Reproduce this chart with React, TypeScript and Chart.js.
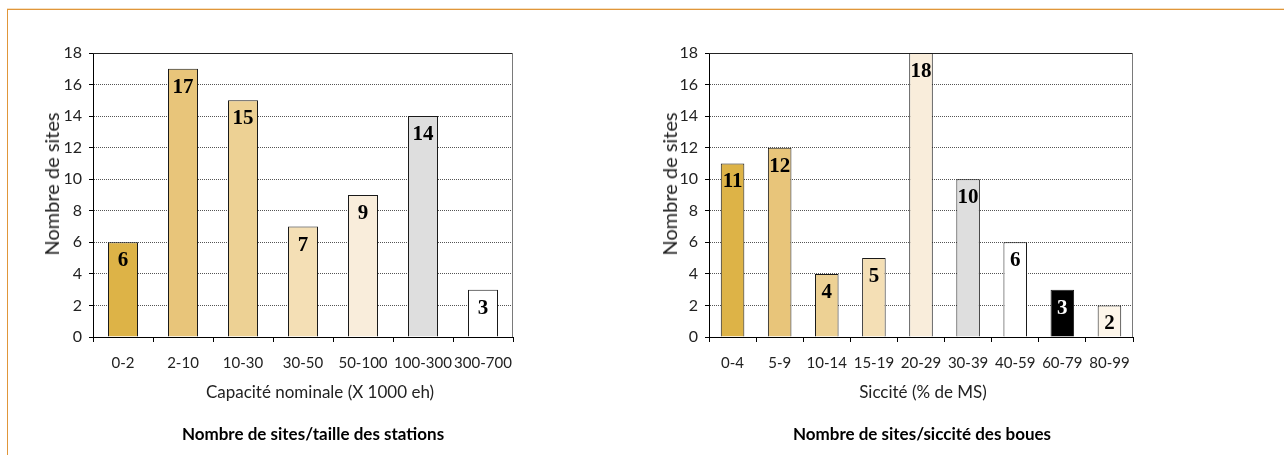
import React, { useEffect, useRef } from "react";
import { Chart, registerables } from "chart.js";

Chart.register(...registerables);

// ---------- data ----------
const sizeCategories = ["0-2", "2-10", "10-30", "30-50", "50-100", "100-300", "300-700"];
const sizeCounts = [6, 17, 15, 7, 9, 14, 3];

const drynessCategories = ["0-4", "5-9", "10-14", "15-19", "20-29", "30-39", "40-59", "60-79", "80-99"];
const drynessCounts = [11, 12, 4, 5, 18, 10, 6, 3, 2];

const yAxisMin = 0;
const yAxisMax = 18;
const yAxisStep = 2;

const yAxisTitle = "Nombre de sites";
const sizeAxisTitle = "Capacité nominale (X 1000 eh)";
const drynessAxisTitle = "Siccité (% de MS)";
const sizeCaption = "Nombre de sites/taille des stations";
const drynessCaption = "Nombre de sites/siccité des boues";

// ---------- styles ----------
const sizeColors = ["#DDB347", "#E8C57A", "#EDD194", "#F4DFB5", "#F9EDDB", "#DEDEDE", "#FFFFFF"];
const drynessColors = ["#DDB347", "#E8C57A", "#EDD194", "#F4DFB5", "#F9EDDB", "#DEDEDE", "#FFFFFF", "#000000", "#FDF6EA"];
const sizeLabelColors = ["#000", "#000", "#000", "#000", "#000", "#000", "#000"];
const drynessLabelColors = ["#000", "#000", "#000", "#000", "#000", "#000", "#000", "#FFFFFF", "#000"];

const SANS = "Lato, 'Open Sans', sans-serif";

const valueLabels = {
  id: "valueLabels",
  afterDatasetsDraw(chart: any, _args: any, opts: any) {
    const ctx = chart.ctx;
    const meta = chart.getDatasetMeta(0);
    const ds = chart.data.datasets[0];
    ctx.save();
    ctx.font = "bold 21px 'Liberation Serif', 'Times New Roman', serif";
    ctx.textAlign = "center";
    ctx.textBaseline = "alphabetic";
    meta.data.forEach((bar: any, i: number) => {
      ctx.fillStyle = (opts.colors && opts.colors[i]) || "#000";
      ctx.fillText(String(ds.data[i]), bar.x, bar.y + opts.offset);
    });
    ctx.restore();
  },
};

const plotFrame = {
  id: "plotFrame",
  beforeDatasetsDraw(chart: any) {
    const { ctx, chartArea } = chart;
    const { left, right, top, bottom } = chartArea;
    ctx.save();
    ctx.lineWidth = 1;
    ctx.strokeStyle = "#222";
    ctx.beginPath();
    ctx.moveTo(left, Math.round(top) + 0.5);
    ctx.lineTo(right, Math.round(top) + 0.5);
    ctx.stroke();
    ctx.strokeStyle = "#7a7a7a";
    ctx.beginPath();
    ctx.moveTo(Math.round(right) - 0.5, top);
    ctx.lineTo(Math.round(right) - 0.5, bottom);
    ctx.stroke();
    ctx.restore();
  },
};

type BarChartProps = {
  labels: string[];
  values: number[];
  colors: string[];
  labelColors: string[];
  width: number;
  height: number;
  area: { left: number; right: number; top: number; bottom: number };
};

function BarChart({ labels, values, colors, labelColors, width, height, area }: BarChartProps) {
  const ref = useRef<HTMLCanvasElement | null>(null);
  useEffect(() => {
    if (!ref.current) return;
    const chart = new Chart(ref.current, {
      type: "bar",
      data: {
        labels,
        datasets: [
          {
            data: values,
            backgroundColor: colors,
            borderColor: "#1a1a1a",
            borderWidth: 1,
            barPercentage: 0.5,
            categoryPercentage: 1.0,
          },
        ],
      },
      options: {
        animation: false,
        responsive: false,
        devicePixelRatio: 1,
        layout: {
          padding: { left: 0, top: area.top, right: width - area.right, bottom: 0 },
        },
        plugins: {
          legend: { display: false },
          tooltip: { enabled: false },
          title: { display: false },
          valueLabels: { colors: labelColors, offset: 24 },
        } as any,
        scales: {
          x: {
            type: "category",
            offset: true,
            grid: {
              display: true,
              offset: true,
              drawOnChartArea: false,
              drawTicks: true,
              tickLength: 5,
              tickColor: "#000",
              color: "#000",
            },
            border: { display: true, color: "#000", width: 1 },
            ticks: {
              color: "#222",
              font: { family: SANS, size: 15 },
              padding: 12,
              maxRotation: 0,
              autoSkip: false,
            },
            afterFit: (s: any) => {
              s.height = height - area.bottom;
            },
          },
          y: {
            min: yAxisMin,
            max: yAxisMax,
            ticks: {
              stepSize: yAxisStep,
              color: "#222",
              font: { family: SANS, size: 16 },
              padding: 7,
            },
            grid: {
              color: "#555",
              drawTicks: true,
              tickLength: 4,
              tickColor: "#000",
              tickBorderDash: [],
            },
            border: { display: true, color: "#000", width: 1, dash: [1, 1] },
            afterFit: (s: any) => {
              s.width = area.left;
            },
          },
        },
      },
      plugins: [plotFrame, valueLabels],
    } as any);
    return () => chart.destroy();
  }, []);
  return <canvas ref={ref} width={width} height={height} style={{ width, height, display: "block" }} />;
}

const textBase: React.CSSProperties = {
  position: "absolute",
  whiteSpace: "nowrap",
  color: "#222",
  fontFamily: SANS,
  lineHeight: 1.2,
};

function Label({ text, cx, cy, size, bold, rotate }: { text: string; cx: number; cy: number; size: number; bold?: boolean; rotate?: boolean }) {
  return (
    <div
      style={{
        ...textBase,
        left: cx,
        top: cy,
        fontSize: size,
        fontWeight: bold ? 700 : 400,
        color: bold ? "#000" : "#222",
        transform: `translate(-50%, -50%)${rotate ? " rotate(-90deg)" : ""}`,
      }}
    >
      {text}
    </div>
  );
}

export default function App() {
  return (
    <div style={{ position: "absolute", left: 0, top: 0, width: 1284, height: 455, overflow: "hidden", background: "#fff" }}>
      <div
        style={{
          position: "absolute",
          left: 7,
          top: 9,
          width: 1290,
          height: 460,
          borderTop: "1px solid #E0963A",
          borderLeft: "1px solid #E0963A",
          boxShadow: "0 -1px 0 #F7E0C0",
        }}
      />
      <div style={{ position: "absolute", left: 0, top: 0 }}>
        <BarChart
          labels={sizeCategories}
          values={sizeCounts}
          colors={sizeColors}
          labelColors={sizeLabelColors}
          width={640}
          height={455}
          area={{ left: 93, right: 513, top: 53, bottom: 337 }}
        />
      </div>
      <div style={{ position: "absolute", left: 640, top: 0 }}>
        <BarChart
          labels={drynessCategories}
          values={drynessCounts}
          colors={drynessColors}
          labelColors={drynessLabelColors}
          width={644}
          height={455}
          area={{ left: 69, right: 493, top: 53, bottom: 337 }}
        />
      </div>
      <Label text={yAxisTitle} cx={51} cy={184} size={20} rotate />
      <Label text={yAxisTitle} cx={669} cy={184} size={20} rotate />
      <Label text={sizeAxisTitle} cx={320} cy={392} size={17} />
      <Label text={drynessAxisTitle} cx={923} cy={392} size={17} />
      <Label text={sizeCaption} cx={313} cy={434} size={17} bold />
      <Label text={drynessCaption} cx={922} cy={434} size={17} bold />
    </div>
  );
}
